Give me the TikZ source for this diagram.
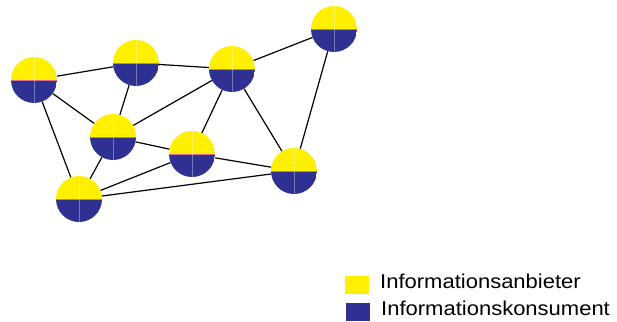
\documentclass[tikz,border=0pt]{standalone}
\usepackage{graphicx}
\usepackage{fontspec}
\setmainfont{Liberation Sans}
\definecolor{ayellow}{RGB}{255,240,0}
\definecolor{ablue}{RGB}{46,49,146}
\definecolor{seam}{RGB}{214,110,150}
\tikzset{
  agent/.style={circle, minimum size=46pt, inner sep=0pt, path picture={
    \fill[ayellow] (path picture bounding box.west) rectangle (path picture bounding box.north east);
    \fill[ablue] (path picture bounding box.west) rectangle (path picture bounding box.south east);
    \draw[line width=0.6pt, seam] (path picture bounding box.west) -- (path picture bounding box.east);
    \draw[line width=0.5pt, white, opacity=0.35] (path picture bounding box.north) -- (path picture bounding box.south);
  }},
  edge/.style={draw=black, line width=1.2pt},
  legbox/.style={inner sep=0pt, minimum width=24pt, minimum height=18pt},
  legtext/.style={anchor=base west, inner sep=0pt, font=\fontsize{20}{24}\selectfont}
}
\begin{document}
\begin{tikzpicture}[x=1pt, y=-1pt]
\useasboundingbox (0,0) rectangle (617,321);
\node[agent] (A) at (34,80) {};
\node[agent] (B) at (136,63) {};
\node[agent] (C) at (113,137) {};
\node[agent] (D) at (232,69) {};
\node[agent] (E) at (334,29) {};
\node[agent] (F) at (192,154) {};
\node[agent] (G) at (294,171) {};
\node[agent] (H) at (79,199) {};
\draw[edge] (A) -- (B);
\draw[edge] (A) -- (C);
\draw[edge] (A) -- (H);
\draw[edge] (B) -- (C);
\draw[edge] (B) -- (D);
\draw[edge] (C) -- (D);
\draw[edge] (C) -- (F);
\draw[edge] (C) -- (H);
\draw[edge] (H) -- (F);
\draw[edge] (H) -- (G);
\draw[edge] (D) -- (F);
\draw[edge] (D) -- (G);
\draw[edge] (D) -- (E);
\draw[edge] (E) -- (G);
\draw[edge] (F) -- (G);
\node[legbox, fill=ayellow] (ly) at (357,284.5) {};
\node[legbox, fill=ablue] (lb) at (358,312) {};
\node[legtext] (ty) at (380,288) {\scalebox{1.1}[1]{Informationsanbieter}};
\node[legtext] (tb) at (381,315) {\scalebox{1.1}[1]{Informationskonsument}};
\end{tikzpicture}
\end{document}
